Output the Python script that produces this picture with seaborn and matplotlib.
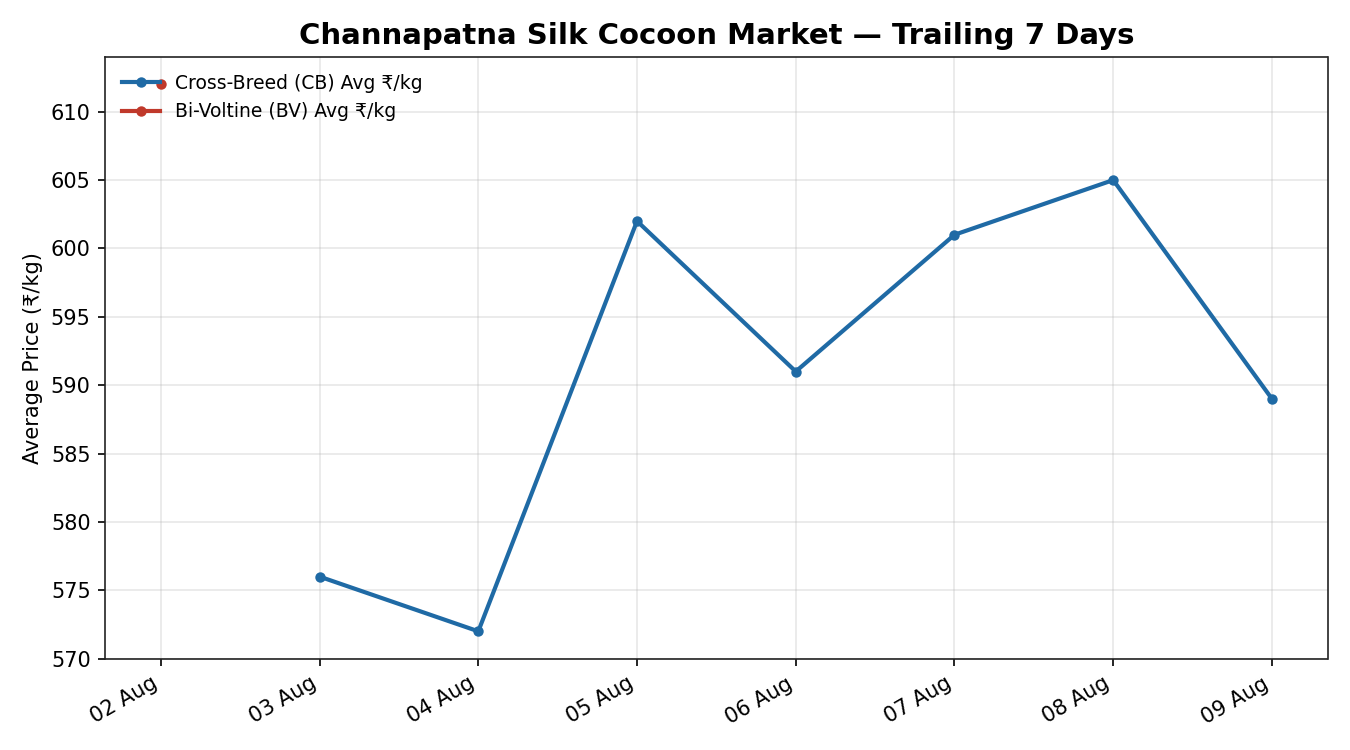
import pandas as pd
import numpy as np
import matplotlib
matplotlib.use("Agg")
import matplotlib.pyplot as plt
import matplotlib.dates as mdates
import seaborn as sns

# trailing window (last 8 dates on the axis)
dates = ["2024-08-02", "2024-08-03", "2024-08-04", "2024-08-05",
         "2024-08-06", "2024-08-07", "2024-08-08", "2024-08-09"]
cb_avg = [np.nan, 576, 572, 602, 591, 601, 605, 589]
bv_avg = [612, np.nan, np.nan, np.nan, np.nan, np.nan, np.nan, np.nan]

CB_COLOR = "#1f6aa5"
BV_COLOR = "#c0392b"

df = pd.DataFrame({"date": pd.to_datetime(dates), "cb": cb_avg, "bv": bv_avg})

plt.rcParams["font.family"] = ["DejaVu Sans"]

fig, ax = plt.subplots(figsize=(9, 5), dpi=150)

sns.lineplot(data=df, x="date", y="cb", ax=ax, color=CB_COLOR, linewidth=2,
             marker="o", markersize=5, markeredgewidth=0,
             label="Cross-Breed (CB) Avg ₹/kg")
sns.lineplot(data=df, x="date", y="bv", ax=ax, color=BV_COLOR, linewidth=2,
             marker="o", markersize=5, markeredgewidth=0,
             label="Bi-Voltine (BV) Avg ₹/kg")

ax.set_title("Channapatna Silk Cocoon Market — Trailing 7 Days",
             fontsize=14, fontweight="bold")
ax.set_xlabel("")
ax.set_ylabel("Average Price (₹/kg)", fontsize=10)
ax.grid(True, alpha=0.3)
ax.xaxis.set_major_locator(mdates.DayLocator())
ax.xaxis.set_major_formatter(mdates.DateFormatter("%d %b"))
for spine in ax.spines.values():
    spine.set_color("#222222")
ax.legend(loc="upper left", frameon=False, fontsize=9)
fig.autofmt_xdate()

plt.tight_layout()
plt.savefig("out.png", dpi=150)
